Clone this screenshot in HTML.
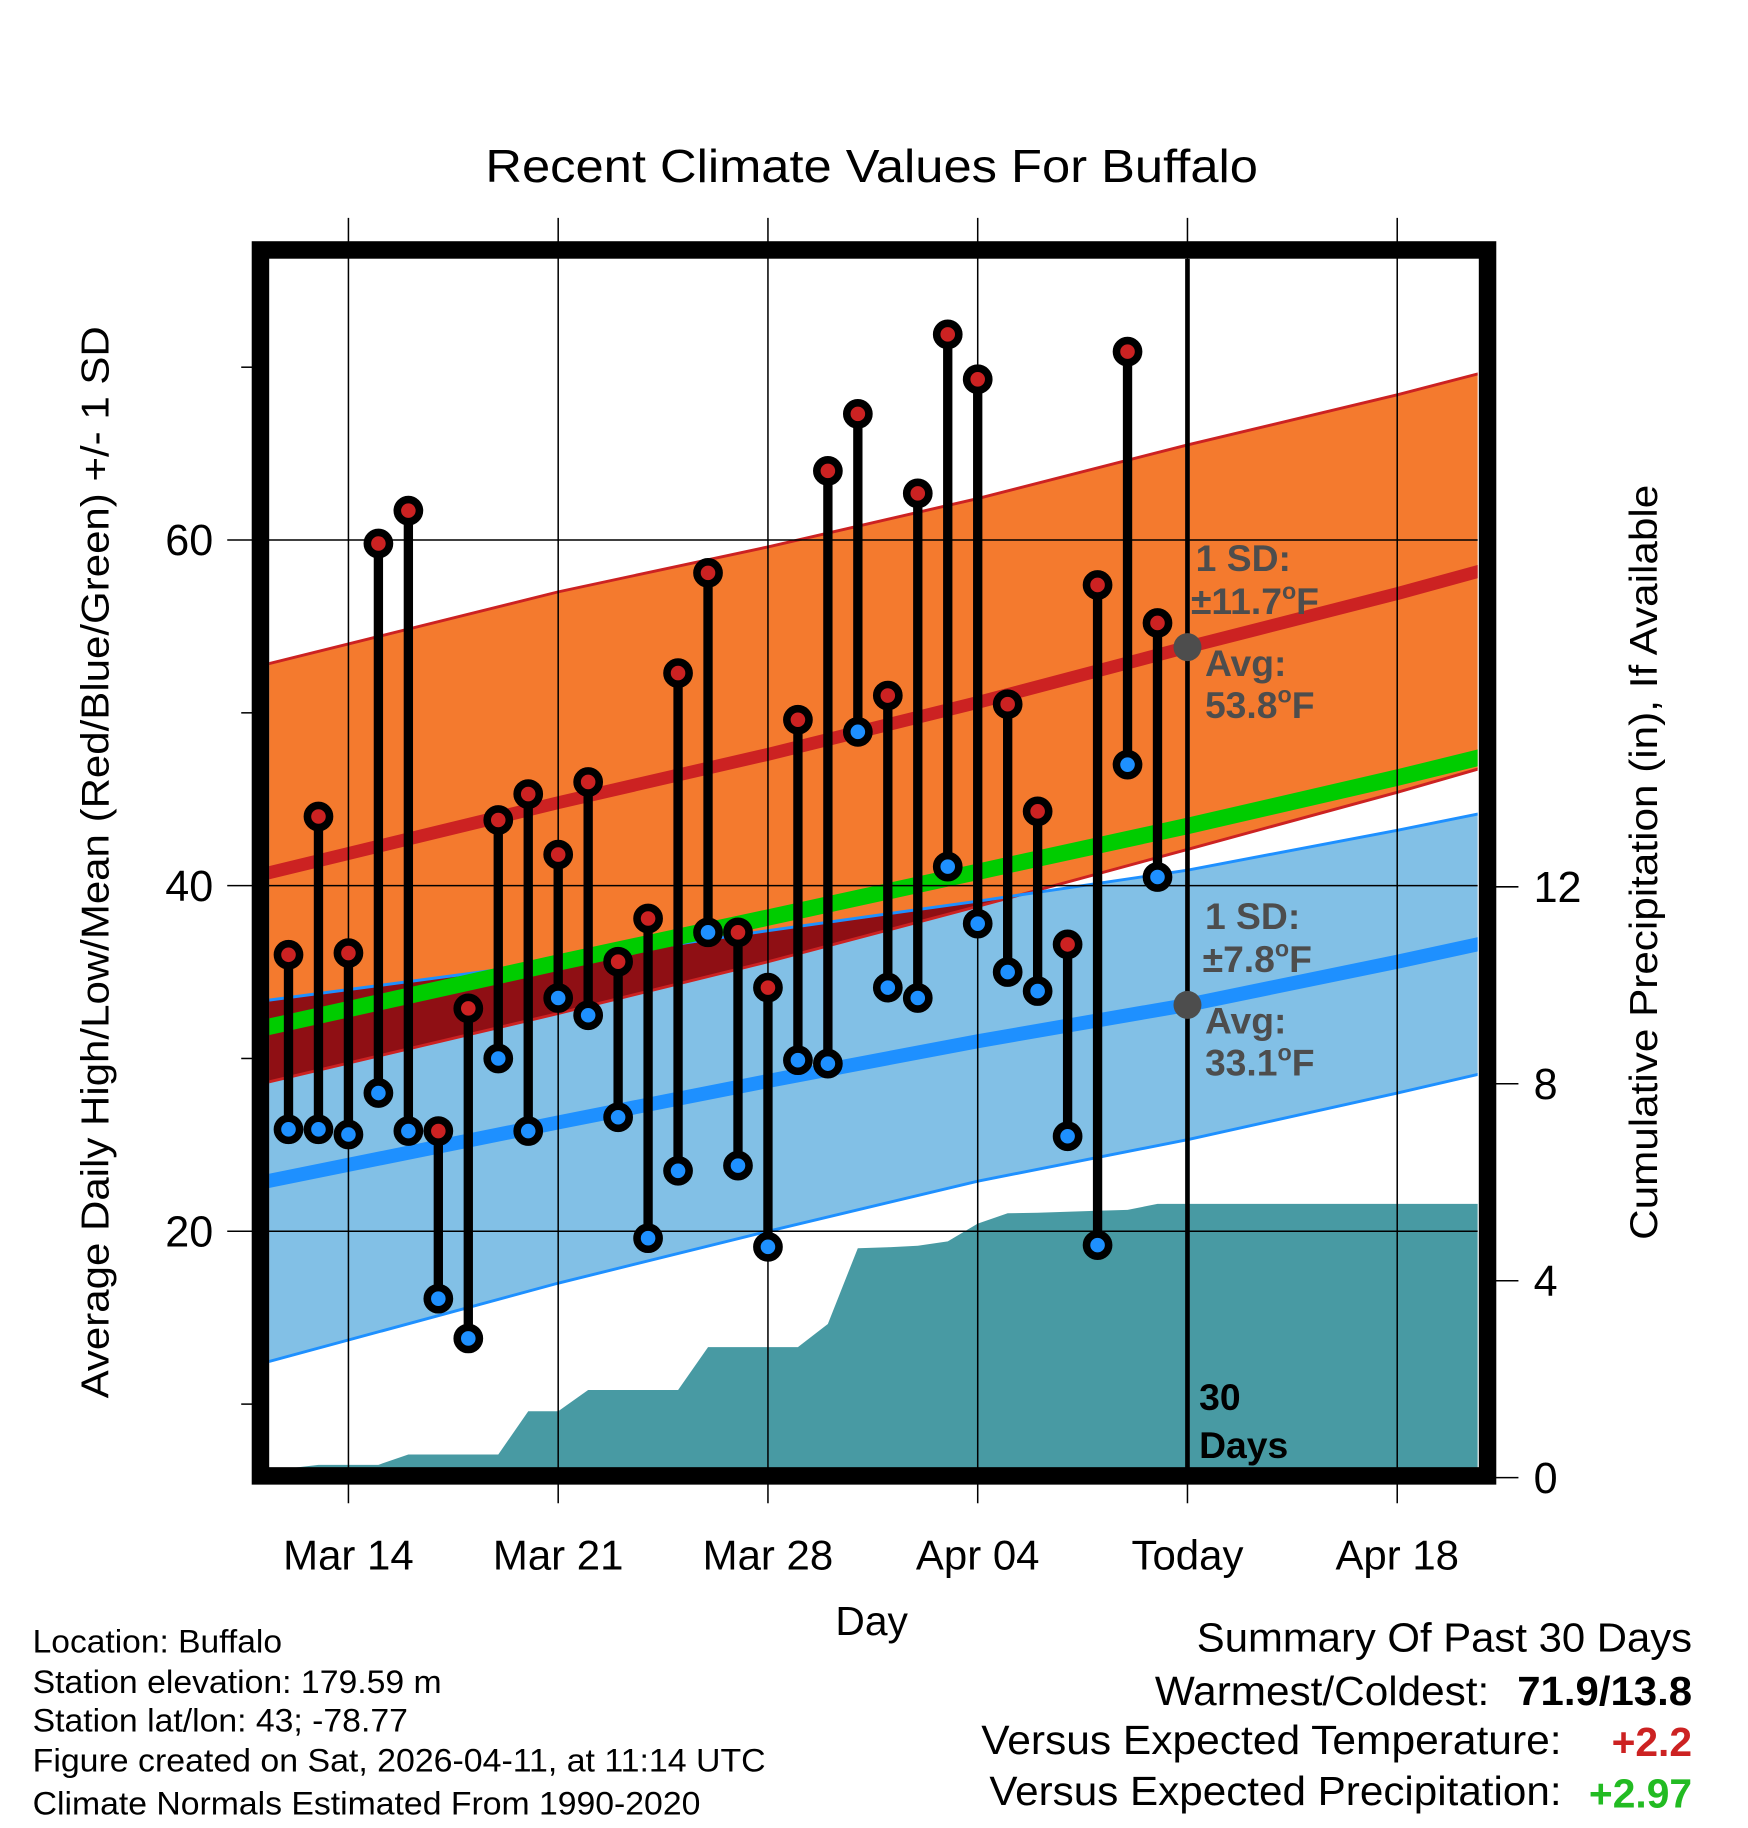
<!DOCTYPE html>
<html><head><meta charset="utf-8"><style>
html,body{margin:0;padding:0;background:#fff;}
svg{display:block;font-family:"Liberation Sans",Arial,sans-serif;}
</style></head><body>
<svg id="chart" width="1748" height="1828" viewBox="0 0 1500 1568.65" preserveAspectRatio="none" xmlns="http://www.w3.org/2000/svg">
<defs>
<clipPath id="plotClip"><rect x="231" y="222" width="1037" height="1038"/></clipPath>
<clipPath id="blueClip"><polygon id="blueClipPoly" points=""/></clipPath>
</defs>
<rect x="0" y="0" width="1500" height="1568.65" fill="#fff"/>
<text x="748" y="156" font-size="40" text-anchor="middle" textLength="663" lengthAdjust="spacingAndGlyphs">Recent Climate Values For Buffalo</text>
<g id="bands" clip-path="url(#plotClip)"></g>
<g id="grid"></g>
<g id="marks" clip-path="url(#plotClip)"></g>
<g id="overlay"></g>
<rect x="223.5" y="214.5" width="1053" height="1052" fill="none" stroke="#000" stroke-width="15"/>
<text transform="translate(93,740) rotate(-90)" font-size="33" text-anchor="middle" textLength="920" lengthAdjust="spacingAndGlyphs">Average Daily High/Low/Mean (Red/Blue/Green) +/- 1 SD</text>
<text transform="translate(1422,740) rotate(-90)" font-size="33" text-anchor="middle" textLength="648" lengthAdjust="spacingAndGlyphs">Cumulative Precipitation (in), If Available</text>
<text x="748" y="1403" font-size="35" text-anchor="middle">Day</text>
<g font-size="28">
<text x="28" y="1418" textLength="214" lengthAdjust="spacingAndGlyphs">Location: Buffalo</text>
<text x="28" y="1453" textLength="351" lengthAdjust="spacingAndGlyphs">Station elevation: 179.59 m</text>
<text x="28" y="1486" textLength="322" lengthAdjust="spacingAndGlyphs">Station lat/lon: 43; -78.77</text>
<text x="28" y="1520" textLength="629" lengthAdjust="spacingAndGlyphs">Figure created on Sat, 2026-04-11, at 11:14 UTC</text>
<text x="28" y="1557" textLength="573" lengthAdjust="spacingAndGlyphs">Climate Normals Estimated From 1990-2020</text>
</g>
<g font-size="35">
<text x="1027" y="1417" textLength="425" lengthAdjust="spacingAndGlyphs">Summary Of Past 30 Days</text>
<text x="991" y="1463" textLength="287" lengthAdjust="spacingAndGlyphs">Warmest/Coldest:</text>
<text x="1302" y="1463" font-weight="bold" textLength="150" lengthAdjust="spacingAndGlyphs">71.9/13.8</text>
<text x="842" y="1505" textLength="498" lengthAdjust="spacingAndGlyphs">Versus Expected Temperature:</text>
<text x="1452" y="1507" text-anchor="end" font-weight="bold" fill="#cc2222">+2.2</text>
<text x="849" y="1549" textLength="491" lengthAdjust="spacingAndGlyphs">Versus Expected Precipitation:</text>
<text x="1452" y="1551" text-anchor="end" font-weight="bold" fill="#22bb22">+2.97</text>
</g>
</svg>
<script>
// ---- data ----
const highs = [36.0,44.0,36.1,59.8,61.7,25.8,32.9,43.8,45.3,41.8,46.0,35.6,38.1,52.3,58.1,37.3,34.1,49.6,64.0,67.3,51.0,62.7,71.9,69.3,50.5,44.3,36.6,57.4,70.9,55.2];
const lows  = [25.9,25.9,25.6,28.0,25.8,16.1,13.8,30.0,25.8,33.5,32.5,26.6,19.6,23.5,37.3,23.8,19.1,29.9,29.7,48.9,34.1,33.5,41.1,37.8,35.0,33.9,25.5,19.2,47.0,40.5];
const precip = [0.19,0.26,0.26,0.26,0.47,0.47,0.47,0.47,1.35,1.35,1.78,1.78,1.78,1.78,2.65,2.65,2.65,2.65,3.12,4.66,4.68,4.71,4.80,5.16,5.37,5.38,5.40,5.42,5.44,5.56];
const normDays = [0,10,17,24,31,38,42]; // days after Mar 11
const normHigh = [40.6,44.8,47.6,50.6,53.8,56.9,58.8];
const sdHigh   = [12.1,12.2,12.0,11.8,11.7,11.5,11.4];
const normLow  = [22.8,26.3,28.7,31.0,33.1,35.6,37.1];
const sdLow    = [10.5,9.3,8.7,8.1,7.8,7.6,7.5];
const yTicks = [20,40,60];
const yMinor = [10,30,50,70];
const y2Ticks = [0,4,8,12];
const xTickDays = [3,10,17,24,31,38];
const xTickLabels = ["Mar 14","Mar 21","Mar 28","Apr 04","Today","Apr 18"];
const todayDay = 31;
const todayHighAvg = 53.8, todayLowAvg = 33.1;

// ---- axes ----
const X = d => 299 + (d-3)*25.714;
const Y = v => 760 - (v-40)*14.83;
const Y2 = p => 1268 - p*42.25;
const NS = "http://www.w3.org/2000/svg";
function mk(tag, attrs, parent){const e=document.createElementNS(NS,tag);for(const k in attrs)e.setAttribute(k,attrs[k]);parent.appendChild(e);return e;}
const bands=document.getElementById('bands'), grid=document.getElementById('grid'), marks=document.getElementById('marks'), overlay=document.getElementById('overlay');
const pts = f => normDays.map((d,i)=>X(d).toFixed(1)+","+Y(f(i)).toFixed(1));
const hiTop=pts(i=>normHigh[i]+sdHigh[i]), hiBot=pts(i=>normHigh[i]-sdHigh[i]);
const loTop=pts(i=>normLow[i]+sdLow[i]), loBot=pts(i=>normLow[i]-sdLow[i]);
const bluePoly = loTop.concat(loBot.slice().reverse()).join(" ");
const orangePoly = hiTop.concat(hiBot.slice().reverse()).join(" ");
document.getElementById('blueClipPoly').setAttribute('points', bluePoly);

let e;
e=mk('polygon',{points:bluePoly,fill:'#82c0e6'},bands);


e=mk('polygon',{points:orangePoly,fill:'#f47a2e'},bands);


e=mk('polygon',{points:orangePoly,fill:'#8f0f14','clip-path':'url(#blueClip)'},bands);


[[hiTop,'#cc2222'],[hiBot,'#cc2222'],[loTop,'#1e90ff'],[loBot,'#1e90ff']].forEach(([p,c])=>{
  const l=mk('polyline',{points:p.join(" "),fill:'none',stroke:c,'stroke-width':2.5},bands);
  
  
});
e=mk('polyline',{points:pts(i=>(normHigh[i]+normLow[i])/2).join(" "),fill:'none',stroke:'#00cc00','stroke-width':14},bands);


e=mk('polyline',{points:pts(i=>normHigh[i]).join(" "),fill:'none',stroke:'#cc2222','stroke-width':11},bands);


e=mk('polyline',{points:pts(i=>normLow[i]).join(" "),fill:'none',stroke:'#1e90ff','stroke-width':12},bands);


// precip area
let pp=[X(0)+","+Y2(precip[0])];
precip.forEach((p,i)=>pp.push(X(i+1).toFixed(1)+","+Y2(p).toFixed(1)));
pp.push(X(45)+","+Y2(precip[precip.length-1]));
pp.push(X(45)+","+Y2(-1)); pp.push(X(0)+","+Y2(-1));
e=mk('polygon',{points:pp.join(" "),fill:'#489aa3'},bands);



// grid & ticks
yTicks.forEach(v=>{
  const l=mk('line',{x1:195,x2:1268,y1:Y(v),y2:Y(v),stroke:'#000','stroke-width':1.3},grid);
  
  
  const t=mk('text',{x:183,y:Y(v)+13,'font-size':37,'text-anchor':'end'},grid); t.textContent=v;
  
  
});
yMinor.forEach(v=>{
  const l=mk('line',{x1:207,x2:218,y1:Y(v),y2:Y(v),stroke:'#000','stroke-width':1.3},grid);
  
  
});
y2Ticks.forEach(p=>{
  const l=mk('line',{x1:1282,x2:1303,y1:Y2(p),y2:Y2(p),stroke:'#000','stroke-width':1.3},grid);
  
  
  const t=mk('text',{x:1316,y:Y2(p)+13,'font-size':37},grid); t.textContent=p;
  
  
});
xTickDays.forEach((d,i)=>{
  const l=mk('line',{x1:X(d),x2:X(d),y1:187,y2:1290,stroke:'#000','stroke-width':1.3},grid);
  
  
  const t=mk('text',{x:X(d),y:1347,'font-size':36,'text-anchor':'middle'},grid); t.textContent=xTickLabels[i];
  
  
});

// today line
e=mk('line',{x1:X(todayDay),x2:X(todayDay),y1:222,y2:1260,stroke:'#000','stroke-width':4},marks);



// stems & dots
highs.forEach((h,i)=>{
  const x=X(i+1);
  const s=mk('line',{x1:x,x2:x,y1:Y(h),y2:Y(lows[i]),stroke:'#000','stroke-width':8},marks);
  
  
});
highs.forEach((h,i)=>{
  const x=X(i+1);
  const a=mk('circle',{cx:x,cy:Y(h),r:9.5,fill:'#cc2222',stroke:'#000','stroke-width':6.5},marks);
  
  
  const b=mk('circle',{cx:x,cy:Y(lows[i]),r:9.5,fill:'#1e90ff',stroke:'#000','stroke-width':6.5},marks);
  
  
});
e=mk('circle',{cx:X(todayDay),cy:Y(todayHighAvg),r:12,fill:'#4d4d4d'},marks);


e=mk('circle',{cx:X(todayDay),cy:Y(todayLowAvg),r:12,fill:'#4d4d4d'},marks);



// annotations
function label(x,y,txt,name,fill){
  const t=mk('text',{x:x,y:y,'font-size':32,'font-weight':'bold',fill:fill||'#4d4d4d'},overlay);
  t.innerHTML=txt;
  
  
}
const deg='<tspan font-size="20" dy="-13">o</tspan><tspan dy="13">F</tspan>';
label(1026,490,'1 SD:','high-sd-label');
label(1022,527,'±11.7'+deg,'high-sd-value');
label(1034,580,'Avg:','high-avg-label');
label(1034,616,'53.8'+deg,'high-avg-value');
label(1034,797,'1 SD:','low-sd-label');
label(1032,834,'±7.8'+deg,'low-sd-value');
label(1034,887,'Avg:','low-avg-label');
label(1034,923,'33.1'+deg,'low-avg-value');
label(1029,1210,'30','days-label-number','#000');
label(1029,1251,'Days','days-label-text','#000');
</script>
</body></html>
